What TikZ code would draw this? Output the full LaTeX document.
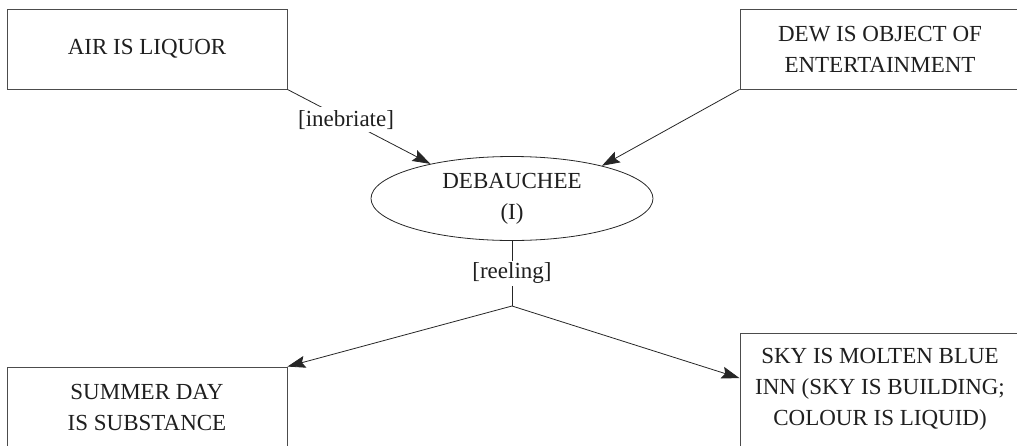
\documentclass[tikz,border=0pt]{standalone}
\usepackage{fontspec}
\setmainfont{Liberation Serif}
\newfontfamily\diagfont{Liberation Serif}
\usetikzlibrary{shapes.geometric,arrows.meta,calc}

\tikzset{
  every node/.style={font=\diagfont\fontsize{23}{31}\selectfont, text=black!88},
  box/.style={draw=black!70, line width=0.9pt, rectangle, align=center,
    minimum width=280pt, inner sep=0pt},
  oval/.style={draw=black!85, line width=0.8pt, ellipse, align=center,
    minimum width=282pt, minimum height=84pt, inner sep=0pt},
  link/.style={draw=black!85, line width=0.8pt},
  arr/.style={link, -{Stealth[length=18pt,width=12pt,inset=3pt]}},
  lbl/.style={fill=white, inner sep=3pt},
}

\begin{document}
\begin{tikzpicture}[x=1pt, y=-1pt]
  \useasboundingbox (0,0) rectangle (1017,445);

  % metaphor boxes
  \node[box, minimum height=80pt]  (air) at (147,49)    {AIR IS LIQUOR};
  \node[box, minimum height=80pt]  (dew) at (880,49)    {DEW IS OBJECT OF\\ENTERTAINMENT};
  \node[box, minimum height=80pt]  (sum) at (147,407)   {SUMMER DAY\\IS SUBSTANCE};
  \node[box, minimum height=113pt] (sky) at (880,389.5) {SKY IS MOLTEN BLUE\\INN (SKY IS BUILDING;\\COLOUR IS LIQUID)};

  % central persona
  \node[oval] (deb) at (512,198.5) {DEBAUCHEE\\(I)};

  % branching point below the ellipse
  \coordinate (fork) at (512,306);

  % incoming links
  \draw[arr] (air.south east) -- node[lbl, pos=0.41] {[inebriate]} (deb.157);
  \draw[arr] (dew.south west) -- (deb.20);

  % outgoing links
  \draw[link] (deb.south) -- node[lbl, inner sep=2pt] {[reeling]} (fork);
  \draw[arr] (fork) -- (sum.north east);
  \draw[arr] (fork) -- ($(sky.north west)!0.4!(sky.south west)$);
\end{tikzpicture}
\end{document}
